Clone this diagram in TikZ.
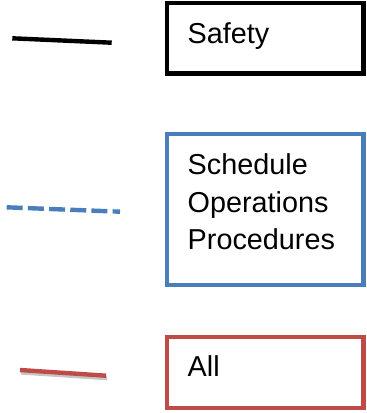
\documentclass[tikz,border=0pt]{standalone}
\usepackage{fontspec}
\setmainfont{Liberation Sans}
\usetikzlibrary{calc}
\definecolor{legendblue}{HTML}{4A7EBB}
\definecolor{legendred}{HTML}{BE4B48}
\tikzset {
    legend box/.style = {
        draw = #1, line width = 2.3pt,
        outer sep = 0pt, inner xsep = 10.35pt, inner ysep = 0pt,
        anchor = north west, text width = 77.5pt, align = left,
        font = \fontsize{14.4}{18.75}\selectfont,
        text height = 20.25pt
    },
    legend line/.style = {draw = #1, line width = 2.2pt},
    dashed line/.style = {dash pattern = on 8pt off 2.6pt},
    shadowed/.style = {
        preaction = {
            draw = black!45, opacity = 0.5, line width = 2.2pt,
            transform canvas = {xshift = 0.5pt, yshift = -1.2pt}
        }
    }
}
\begin{document}
\begin{tikzpicture}[x = 0.5pt, y = -0.5pt]
    \useasboundingbox (0, 0) rectangle (367, 413);
    % boxes
    \node (safety) [legend box = black, text depth = 15.1pt] at (167, 2.8) {Safety};
    \node (schedule) [legend box = legendblue, text depth = 55.25pt] at (167, 134) {Schedule\\Operations\\Procedures};
    \node (all) [legend box = legendred, text height = 19.5pt, text depth = 16pt] at (167, 337) {All};
    % line samples
    \coordinate (safety a) at (12.3, 38.3);
    \coordinate (safety b) at (111.7, 42.7);
    \coordinate (schedule a) at (6.7, 207.3);
    \coordinate (schedule b) at (120, 211.7);
    \coordinate (all a) at (20, 370);
    \coordinate (all b) at (106, 375.7);
    \draw [legend line = black] (safety a) -- (safety b);
    \draw [legend line = legendblue, dashed line] (schedule a) -- (schedule b);
    \draw [legend line = legendred, shadowed] (all a) -- (all b);
\end{tikzpicture}
\end{document}
